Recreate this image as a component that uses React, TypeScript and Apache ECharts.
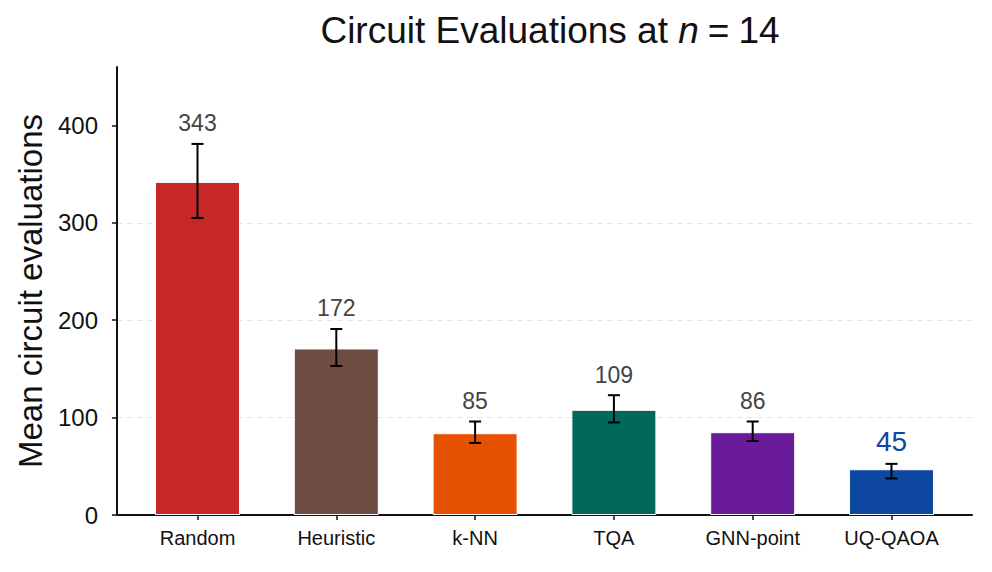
import React, { useEffect, useRef } from "react";
import * as echarts from "echarts";

const categories = ["Random", "Heuristic", "k-NN", "TQA", "GNN-point", "UQ-QAOA"];
const barValues = [342, 171, 84, 108, 85, 47];
const means = [343, 172, 85, 109, 86, 45];
const errors = [38, 19, 11, 14, 10, 7.5];
const barColors = ["#c62828", "#6d4c41", "#e65100", "#00695c", "#6a1b9a", "#0d47a1"];
const yTicks = [0, 100, 200, 300, 400];
const highlightIndex = 5;

const FONT = "Liberation Sans, Arial, Helvetica, sans-serif";

export default function App() {
  const ref = useRef<HTMLDivElement>(null);
  useEffect(() => {
    if (!ref.current) return;
    const chart = echarts.init(ref.current, undefined, { renderer: "svg" });
    const xIdx = categories.map((_, i) => i);
    const option: any = {
      animation: false,
      backgroundColor: "#ffffff",
      textStyle: { fontFamily: FONT },
      title: {
        text: "Circuit Evaluations at {i|n}{e|=}14",
        left: 545,
        top: 7,
        textAlign: "center",
        textStyle: {
          fontFamily: FONT,
          fontSize: 37,
          fontWeight: "normal",
          color: "#111",
          rich: {
            i: { fontFamily: FONT, fontSize: 37, fontStyle: "italic", color: "#111" },
            e: { fontFamily: FONT, fontSize: 37, color: "#111", padding: [0, 9, 0, 9] },
          },
        },
      },
      grid: { left: 117, right: 20, top: 67, bottom: 57, containLabel: false },
      xAxis: {
        type: "value",
        min: -0.58,
        max: 5.58,
        splitLine: { show: false },
        axisLine: { show: true, onZero: false, lineStyle: { color: "#111", width: 2 } },
        axisTick: {
          show: true,
          customValues: xIdx,
          length: 5,
          lineStyle: { color: "#111", width: 1.5 },
        },
        axisLabel: {
          customValues: xIdx,
          formatter: (v: number) => categories[Math.round(v)] ?? "",
          fontSize: 20,
          color: "#111",
          margin: 13,
          fontFamily: FONT,
        },
      },
      yAxis: {
        type: "value",
        min: 0,
        max: 460,
        name: "Mean circuit evaluations",
        nameLocation: "middle",
        nameGap: 70,
        nameTextStyle: { fontSize: 33, color: "#111", fontFamily: FONT },
        axisLine: { show: true, onZero: false, lineStyle: { color: "#111", width: 2 } },
        axisTick: {
          show: true,
          customValues: yTicks,
          length: 5,
          lineStyle: { color: "#111", width: 1.5 },
        },
        axisLabel: {
          customValues: yTicks,
          fontSize: 24,
          color: "#111",
          margin: 19,
          fontFamily: FONT,
        },
        splitLine: {
          show: true,
          showMinLine: false,
          showMaxLine: false,
          lineStyle: { color: "#e6e6e6", type: [6, 4], width: 1 },
        },
      },
      series: [
        {
          type: "bar",
          barWidth: 85,
          data: barValues.map((v, i) => ({
            value: [i, v],
            itemStyle: { color: barColors[i], borderColor: "#ffffff", borderWidth: 1 },
          })),
          z: 3,
        },
        {
          type: "custom",
          z: 5,
          data: means.map((m, i) => [i, m - errors[i], m + errors[i], m]),
          renderItem: (params: any, api: any) => {
            const i = api.value(0);
            const lo = api.value(1);
            const hi = api.value(2);
            const m = api.value(3);
            const top = api.coord([i, hi]);
            const bot = api.coord([i, lo]);
            const cap = 6;
            const ls = { stroke: "#000", lineWidth: 2 };
            const hl = params.dataIndex === highlightIndex;
            return {
              type: "group",
              children: [
                { type: "line", shape: { x1: top[0], y1: top[1], x2: bot[0], y2: bot[1] }, style: ls },
                { type: "line", shape: { x1: top[0] - cap, y1: top[1], x2: top[0] + cap, y2: top[1] }, style: ls },
                { type: "line", shape: { x1: bot[0] - cap, y1: bot[1], x2: bot[0] + cap, y2: bot[1] }, style: ls },
                {
                  type: "text",
                  style: {
                    text: String(m),
                    x: top[0],
                    y: top[1] - (hl ? 8 : 9),
                    align: "center",
                    verticalAlign: "bottom",
                    fill: hl ? "#0d47a1" : "#444444",
                    fontSize: hl ? 28 : 23,
                    fontFamily: FONT,
                  },
                },
              ],
            };
          },
        },
      ],
    };
    chart.setOption(option);
    return () => chart.dispose();
  }, []);
  return (
    <div
      ref={ref}
      style={{ position: "fixed", left: 0, top: 0, width: 992, height: 572, background: "#fff" }}
    />
  );
}
